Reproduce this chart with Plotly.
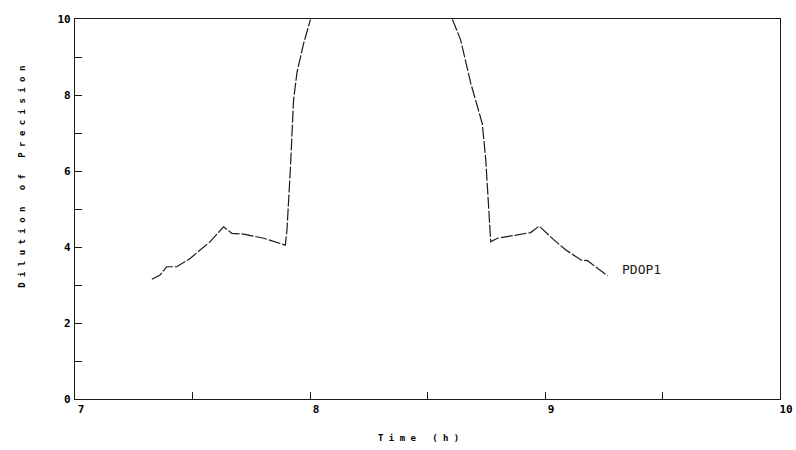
import plotly.graph_objects as go

# PDOP curve (time in hours, dilution of precision)
time_h = [7.327, 7.362, 7.39, 7.433, 7.49, 7.575, 7.632, 7.668, 7.717, 7.803, 7.895,
          7.902, 7.917, 7.93, 7.945, 7.973, 8.002,
          None,
          8.606, 8.641, 8.684, 8.733, 8.748, 8.762, 8.769, 8.797, 8.939, 8.975,
          9.039, 9.089, 9.153, 9.181, 9.223, 9.266]
pdop = [3.15, 3.26, 3.48, 3.48, 3.70, 4.14, 4.53, 4.36, 4.34, 4.23, 4.05,
        4.45, 6.11, 7.87, 8.61, 9.36, 9.99,
        None,
        9.99, 9.45, 8.31, 7.25, 6.29, 4.80, 4.14, 4.23, 4.38, 4.55,
        4.18, 3.92, 3.66, 3.64, 3.44, 3.24]

series_label = "PDOP1"
label_pos = (9.32, 3.42)

x_ticks = [7, 7.5, 8, 8.5, 9, 9.5, 10]
x_ticktext = ["7", "", "8", "", "9", "", "10"]
y_ticks = list(range(0, 11))
y_ticktext = ["0", "", "2", "", "4", "", "6", "", "8", "", "10"]

ink = "#1a1a1a"
mono = "DejaVu Sans Mono"

fig = go.Figure()

fig.add_trace(go.Scatter(
    x=time_h, y=pdop, mode="lines", connectgaps=False,
    line=dict(color=ink, width=1.2, dash="12px,2px"),
    showlegend=False, hoverinfo="skip"
))

# curve label
fig.add_annotation(x=label_pos[0], y=label_pos[1], text=series_label,
                   showarrow=False, xanchor="left", yanchor="middle",
                   font=dict(family=mono, size=13, color=ink))

# letter-spaced axis titles, as on the original plotter output
fig.add_annotation(xref="paper", yref="paper", x=-0.075, y=0.585,
                   text="D i l u t i o n   o f   P r e c i s i o n",
                   textangle=-90, showarrow=False, xanchor="center", yanchor="middle",
                   font=dict(family=mono, size=9, color="#000000", weight="bold"))
fig.add_annotation(xref="paper", yref="paper", x=0.487, y=-0.103,
                   text="T i m e   ( h )", showarrow=False,
                   xanchor="center", yanchor="middle",
                   font=dict(family=mono, size=9, color="#000000", weight="bold"))

axis_common = dict(
    showgrid=False, zeroline=False, showline=True, mirror=True,
    linecolor=ink, linewidth=1.3, ticks="inside", ticklen=7,
    tickcolor=ink, tickwidth=1.3, automargin=False,
    tickfont=dict(family=mono, size=11, color="#000000", weight="bold"),
)

fig.update_xaxes(range=[7, 10], tickmode="array", tickvals=x_ticks,
                 ticktext=x_ticktext, ticklabelshift=6, **axis_common)
fig.update_yaxes(range=[0, 10], tickmode="array", tickvals=y_ticks,
                 ticktext=y_ticktext, ticklabelstandoff=1, **axis_common)

fig.update_layout(
    width=796, height=450,
    margin=dict(l=75, r=16, t=19, b=51, autoexpand=False),
    plot_bgcolor="white", paper_bgcolor="white",
)

# drop the default 8px page margin so the figure sits flush in the window
fig.write_html("out.html", config={"displayModeBar": False},
               post_script="document.body.style.margin='0';")
